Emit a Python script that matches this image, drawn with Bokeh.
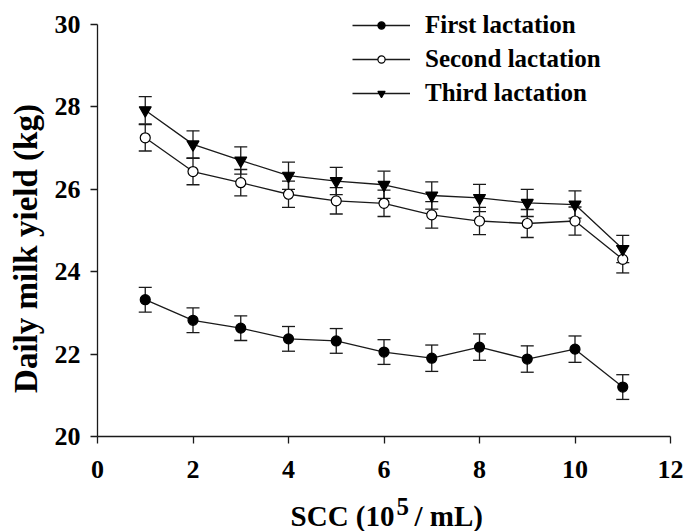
import math
from bokeh.plotting import figure
from bokeh.models import (ColumnDataSource, Whisker, TeeHead, Legend, LegendItem,
                          Label, FixedTicker, Range1d)
from bokeh.embed import file_html
from bokeh.resources import INLINE

scc = [1, 2, 3, 4, 5, 6, 7, 8, 9, 10, 11]
first = [23.32, 22.82, 22.63, 22.37, 22.32, 22.05, 21.90, 22.17, 21.88, 22.12, 21.20]
first_se = [0.30, 0.30, 0.30, 0.30, 0.30, 0.30, 0.32, 0.32, 0.32, 0.32, 0.30]
second = [27.25, 26.43, 26.16, 25.88, 25.72, 25.66, 25.38, 25.23, 25.17, 25.23, 24.30]
second_se = [0.32, 0.32, 0.32, 0.32, 0.32, 0.32, 0.32, 0.33, 0.34, 0.34, 0.33]
third = [27.92, 27.09, 26.70, 26.33, 26.20, 26.11, 25.85, 25.79, 25.67, 25.63, 24.55]
third_se = [0.33, 0.33, 0.33, 0.33, 0.33, 0.33, 0.33, 0.33, 0.33, 0.33, 0.33]
x_ticks = [0, 2, 4, 6, 8, 10, 12]
y_ticks = [20, 22, 24, 26, 28, 30]
labels = ["First lactation", "Second lactation", "Third lactation"]

FONT = "Liberation Serif"
INK = "#1a1a1a"

W, H = 686, 531
# pixel layout of the axes box inside the canvas
AX_L, AX_R, AX_T, AX_B = 97, 670, 24, 436
X0, X1, Y0, Y1 = 0, 12, 20, 30
xs = (AX_R - AX_L) / (X1 - X0)
ys = (AX_B - AX_T) / (Y1 - Y0)
x_min = X0 - AX_L / xs
x_max = X1 + (W - AX_R) / xs
y_max = Y1 + AX_T / ys
y_min = Y0 - (H - AX_B) / ys


def px_to_x(px):
    return x_min + px / xs


def px_to_y(py):
    return y_max - py / ys


p = figure(width=W, height=H, x_range=Range1d(x_min, x_max), y_range=Range1d(y_min, y_max),
           output_backend="svg", toolbar_location=None,
           min_border=0, min_border_left=0, min_border_right=0,
           min_border_top=0, min_border_bottom=0)
p.grid.visible = False
p.outline_line_color = None

for ax in (p.xaxis[0], p.yaxis[0]):
    ax.axis_line_color = INK
    ax.axis_line_width = 1.3
    ax.major_tick_line_color = INK
    ax.major_tick_line_width = 1.3
    ax.major_tick_out = 7
    ax.major_tick_in = 0
    ax.minor_tick_line_color = None
    ax.major_label_text_font = FONT
    ax.major_label_text_font_style = "bold"
    ax.major_label_text_font_size = "26px"
    ax.major_label_text_color = "black"

p.xaxis.fixed_location = Y0
p.yaxis.fixed_location = X0
p.xaxis.bounds = (X0, X1)
p.yaxis.bounds = (Y0, Y1)
p.xaxis.major_label_standoff = 17
p.yaxis.major_label_standoff = 10
p.xaxis.ticker = FixedTicker(ticks=x_ticks)
p.yaxis.ticker = FixedTicker(ticks=y_ticks)

series = [
    (first, first_se, "circle", 10, "black"),
    (second, second_se, "circle", 10, "white"),
    (third, third_se, "inverted_triangle", 12, "black"),
]

items = []
for (vals, se, mk, sz, fill), lab in zip(series, labels):
    src = ColumnDataSource(dict(
        x=scc, y=vals,
        upper=[v + e for v, e in zip(vals, se)],
        lower=[v - e for v, e in zip(vals, se)],
    ))
    w = Whisker(source=src, base="x", upper="upper", lower="lower",
                line_color=INK, line_width=1.3, level="underlay",
                upper_head=TeeHead(size=13, line_color=INK, line_width=1.3),
                lower_head=TeeHead(size=13, line_color=INK, line_width=1.3))
    p.add_layout(w)
    lr = p.line("x", "y", source=src, line_color=INK, line_width=1.3)
    sr = p.scatter("x", "y", source=src, marker=mk, size=sz,
                   fill_color=fill, line_color="black", line_width=1.2)
    items.append(LegendItem(label=lab, renderers=[lr, sr]))

legend = Legend(items=items, location=(352, 424), orientation="vertical",
                glyph_width=58, glyph_height=18, label_height=18,
                label_standoff=15, spacing=6, padding=0, margin=0,
                border_line_color=None, background_fill_alpha=0,
                label_text_font=FONT, label_text_font_style="bold",
                label_text_font_size="25px", label_text_color="black")
p.add_layout(legend, "center")

lab_style = dict(text_font=FONT, text_font_style="bold", text_color="black")
# y-axis title
p.add_layout(Label(x=px_to_x(25), y=px_to_y(248), text="Daily milk yield (kg)",
                   angle=math.pi / 2, text_align="center", text_baseline="middle",
                   text_font_size="33px", **lab_style))
# x-axis title with superscript
p.add_layout(Label(x=px_to_x(394), y=px_to_y(515), text="SCC (10", text_align="right",
                   text_baseline="alphabetic", text_font_size="29px", **lab_style))
p.add_layout(Label(x=px_to_x(396), y=px_to_y(506), text="5", text_align="left",
                   text_baseline="alphabetic", text_font_size="25px", **lab_style))
p.add_layout(Label(x=px_to_x(414), y=px_to_y(515), text="/ mL)", text_align="left",
                   text_baseline="alphabetic", text_font_size="29px", **lab_style))

open("out.html", "w").write(file_html(p, INLINE))
